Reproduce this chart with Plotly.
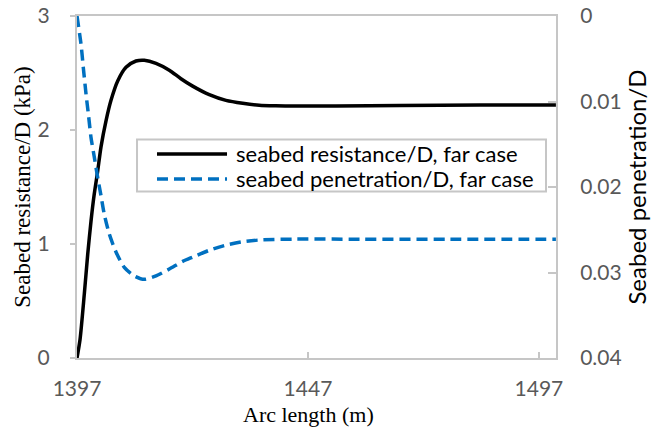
import plotly.graph_objects as go

# Seabed resistance/D (kPa) vs arc length (m)
res_x = [1397.00, 1397.65, 1398.58, 1399.32, 1400.03, 1400.74, 1401.48, 1402.19, 1403.28, 1404.36,
         1405.81, 1407.61, 1409.77, 1411.57, 1414.10, 1416.98, 1419.50, 1422.04, 1425.64, 1429.25,
         1432.87, 1436.46, 1440.07, 1443.69, 1453.06, 1466.91, 1484.23, 1500.68]
res_y = [0.00, 0.16, 0.56, 0.91, 1.20, 1.44, 1.64, 1.85, 2.08, 2.26,
         2.43, 2.55, 2.605, 2.612, 2.585, 2.525, 2.45, 2.385, 2.31, 2.26,
         2.234, 2.217, 2.212, 2.21, 2.21, 2.215, 2.22, 2.22]

# Seabed penetration/D vs arc length (m)
pen_x = [1397.00, 1397.87, 1398.36, 1398.95, 1399.53, 1400.03, 1400.74, 1401.48, 1402.19, 1402.91,
         1403.99, 1405.44, 1407.24, 1409.40, 1411.57, 1414.10, 1416.98, 1419.88, 1422.04, 1425.64,
         1429.25, 1432.87, 1436.46, 1443.69, 1458.25, 1477.73, 1500.68]
pen_y = [0.0000, 0.0033, 0.0060, 0.0091, 0.0118, 0.0142, 0.0165, 0.0189, 0.0210, 0.0232,
         0.0255, 0.0276, 0.0294, 0.0304, 0.0308, 0.0304, 0.0296, 0.0287, 0.0282, 0.0274,
         0.0268, 0.0264, 0.0262, 0.0261, 0.0261, 0.0261, 0.0261]

x_ticks = [1397, 1447, 1497]
y_ticks = [0, 1, 2, 3]
y2_ticks = [0, 0.01, 0.02, 0.03, 0.04]
y2_labels = ["0", "0.01", "0.02", "0.03", "0.04"]

names = ["seabed resistance/D, far case", "seabed penetration/D, far case"]
colors = ["black", "#0070C0"]
dashes = ["solid", "11px,6px"]

GRAY = "#c6c6c6"
TICKFONT = dict(family="Lato", size=21, color="#595959")

fig = go.Figure()
fig.add_trace(go.Scatter(
    x=res_x, y=res_y, mode="lines", name=names[0], showlegend=False,
    line=dict(color=colors[0], width=3.5, shape="spline", smoothing=0.7),
))
fig.add_trace(go.Scatter(
    x=pen_x, y=pen_y, mode="lines", name=names[1], yaxis="y2", showlegend=False,
    line=dict(color=colors[1], width=3.5, dash=dashes[1], shape="spline", smoothing=0.7),
))

# Legend box (drawn in paper coordinates)
shapes = [dict(type="rect", xref="paper", yref="paper", x0=0.1253, x1=0.9791, y0=0.4868, y1=0.6389,
               line=dict(color=GRAY, width=2), fillcolor="white", layer="above")]
annotations = []
rows_y = [0.5965, 0.5234]
for name, col, dsh, ry in zip(names, colors, dashes, rows_y):
    shapes.append(dict(type="line", xref="paper", yref="paper", x0=0.1670, x1=0.3132, y0=ry, y1=ry,
                       line=dict(color=col, width=3.5, dash=dsh), layer="above"))
    annotations.append(dict(text=name, xref="paper", yref="paper", x=0.3278, y=ry,
                            xanchor="left", yanchor="middle", showarrow=False,
                            font=dict(family="Lato", size=22, color="black")))

# X-axis title, centred under the 1447 tick as in the original
annotations.append(dict(text="Arc length (m)", xref="paper", yref="paper", x=0.4823, y=-0.166,
                        xanchor="center", yanchor="middle", showarrow=False,
                        font=dict(family="Liberation Serif", size=22, color="black")))

fig.update_layout(
    width=660, height=437,
    margin=dict(l=77, r=104, t=16, b=79),
    paper_bgcolor="white", plot_bgcolor="white",
    showlegend=False,
    shapes=shapes, annotations=annotations,
    xaxis=dict(
        range=[1397, 1500.7], tickvals=x_ticks, ticktext=[str(v) for v in x_ticks],
        showgrid=False, zeroline=False, automargin=False,
        showline=True, linecolor=GRAY, linewidth=2, mirror=True,
        ticks="inside", ticklen=6, tickcolor=GRAY, tickwidth=1.5,
        tickfont=TICKFONT, ticklabelstandoff=11,
    ),
    yaxis=dict(
        range=[0, 3], tickvals=y_ticks,
        showgrid=False, zeroline=False, automargin=False,
        showline=True, linecolor=GRAY, linewidth=2,
        ticks="outside", ticklen=5, tickcolor=GRAY, tickwidth=1.5,
        tickfont=TICKFONT, ticklabelstandoff=16,
        title=dict(text="Seabed resistance/D (kPa)", font=dict(family="Liberation Serif", size=23, color="black"),
                   standoff=1),
    ),
    yaxis2=dict(
        overlaying="y", side="right", range=[0.04, 0], tickvals=y2_ticks, ticktext=y2_labels,
        showgrid=False, zeroline=False, automargin=False,
        showline=True, linecolor=GRAY, linewidth=2,
        ticks="inside", ticklen=8, tickcolor=GRAY, tickwidth=1.5,
        tickfont=TICKFONT, ticklabelstandoff=18,
        title=dict(text="Seabed penetration/D", font=dict(family="Lato", size=24, color="black"),
                   standoff=3),
    ),
)

fig.write_html("out.html")
